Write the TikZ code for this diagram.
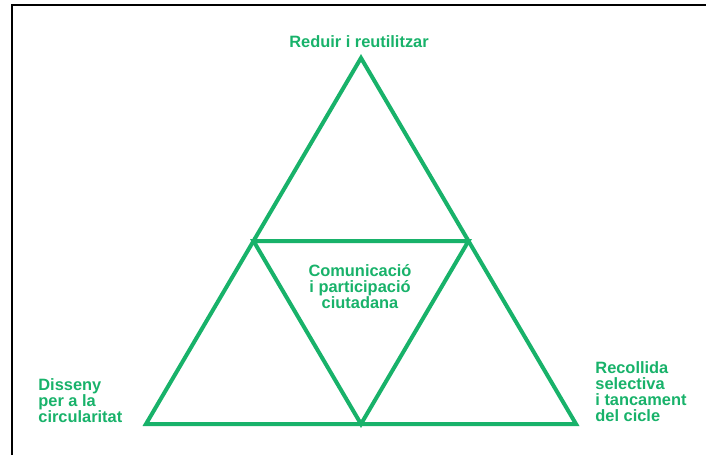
\documentclass[tikz,border=0pt]{standalone}
\usepackage{fontspec}
\setmainfont{Liberation Sans}
\definecolor{leafgreen}{RGB}{24,178,106}

\begin{document}
\begin{tikzpicture}[x=0.5pt, y=-0.5pt,
	tag/.style={text=leafgreen, font=\bfseries\fontsize{8.2}{8}\selectfont, inner sep=0pt}]
	\useasboundingbox (0, 0) rectangle (706, 455);
	\draw[line width=1pt] (12, 455) -- (12, 5) -- (706, 5);
	\coordinate (top) at (361, 58);
	\coordinate (left) at (146, 424);
	\coordinate (right) at (576, 424);
	\coordinate (midleft) at (253.5, 241);
	\coordinate (midright) at (468.5, 241);
	\coordinate (midbottom) at (361, 424);
	\draw[leafgreen, line width=2pt] (top) -- (right) -- (left) -- cycle;
	\draw[leafgreen, line width=2pt] (midleft) -- (midright) -- (midbottom) -- cycle;
	\node[tag, anchor=north] (reduir) at (359, 35) {Reduir i reutilitzar};
	\node[tag, anchor=north, align=center] (comunicacio) at (360, 264) {Comunicació\\i participació\\ciutadana};
	\node[tag, anchor=north west, align=left] (disseny) at (38, 378) {Disseny\\per a la\\circularitat};
	\node[tag, anchor=north west, align=left] (recollida) at (595, 361) {Recollida\\selectiva\\i tancament\\del cicle};
\end{tikzpicture}
\end{document}
